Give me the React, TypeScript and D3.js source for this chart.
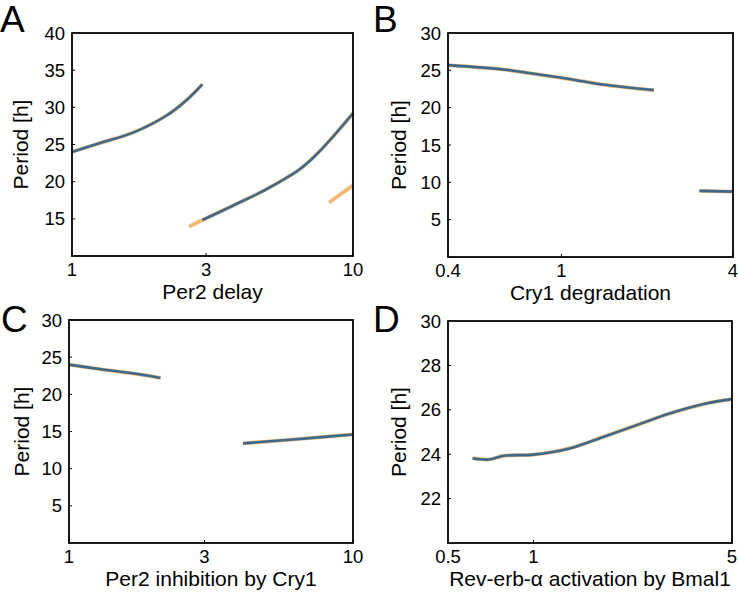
import React, { useEffect } from 'react'
import * as d3 from 'd3'

// values (x, period in h)
const perDelayBranch1 = [[1, 24.0], [1.26, 25.2], [1.65, 26.6], [2.17, 28.9], [2.56, 31.0], [2.91, 33.1]]
const perDelayBranch2 = [[2.91, 14.85], [3.75, 16.8], [4.93, 19.0], [6.48, 21.7], [7.43, 23.7], [8.51, 26.1], [10, 29.2]]
const perDelayUnstable1 = [[2.61, 13.95], [2.91, 14.85]]
const perDelayUnstable2 = [[8.22, 17.2], [10, 19.5]]

const cryDegBranch1 = [[0.4, 25.7], [0.63, 25.1], [0.78, 24.6], [1.0, 24.0], [1.4, 23.1], [2.11, 22.35]]
const cryDegBranch2 = [[3.05, 8.85], [4, 8.75]]

const perInhBranch1 = [[1, 24.0], [1.28, 23.4], [1.77, 22.7], [2.1, 22.2]]
const perInhBranch2 = [[4.1, 13.4], [6.49, 14.0], [10, 14.6]]

const revActBranch = [[0.61, 23.82], [0.695, 23.76], [0.785, 23.93], [1, 23.98], [1.35, 24.27], [1.77, 24.79], [2.31, 25.31], [3.03, 25.84], [3.97, 26.26], [5, 26.48]]

const ticksA = [1, 3, 10]
const ticksB = [0.4, 1, 4]
const ticksC = [1, 3, 10]
const ticksD = [0.5, 1, 5]
const yTicksA = [15, 20, 25, 30, 35, 40]
const yTicks30 = [5, 10, 15, 20, 25, 30]
const yTicksD = [22, 24, 26, 28, 30]

const BLUE = '#3b6a8d'
const ORANGE = '#f2b877'
const FONT = '"Liberation Sans", Arial, sans-serif'

type Pt = number[]

const panels = [
  { letter: 'A', lx: 0, ly: 32, box: [72, 33, 353, 256], xd: [1, 10], yd: [10, 40], xt: ticksA, yt: yTicksA, ylx: 21,
    label: 'Per2 delay', stable: [perDelayBranch1, perDelayBranch2], unstable: [perDelayUnstable1, perDelayUnstable2] },
  { letter: 'B', lx: 373, ly: 32, box: [448, 33, 733, 257], xd: [0.4, 4], yd: [0, 30], xt: ticksB, yt: yTicks30, ylx: 399,
    label: 'Cry1 degradation', stable: [cryDegBranch1, cryDegBranch2], unstable: [] },
  { letter: 'C', lx: 1, ly: 332, box: [69, 320, 353, 543], xd: [1, 10], yd: [0, 30], xt: ticksC, yt: yTicks30, ylx: 22,
    label: 'Per2 inhibition by Cry1', stable: [perInhBranch1, perInhBranch2], unstable: [] },
  { letter: 'D', lx: 373, ly: 332, box: [448, 321, 732, 543], xd: [0.5, 5], yd: [20, 30], xt: ticksD, yt: yTicksD, ylx: 399,
    label: 'Rev-erb-α activation by Bmal1', stable: [revActBranch], unstable: [] },
]

function Panel({ p }: { p: typeof panels[number] }) {
  const [l, t, r, b] = p.box
  const x = d3.scaleLog().domain(p.xd).range([l, r])
  const y = d3.scaleLinear().domain(p.yd).range([b, t])
  const line = d3.line<Pt>().x(d => x(d[0])).y(d => y(d[1])).curve(d3.curveCatmullRom.alpha(0.5))
  return (
    <g>
      <text x={p.lx} y={p.ly} fontSize={37} fontFamily={FONT}>{p.letter}</text>
      {[...p.stable, ...p.unstable].map((s, i) => (
        <path key={'o' + i} d={line(s as Pt[]) || ''} fill="none" stroke={ORANGE} strokeWidth={3.8} />
      ))}
      {p.stable.map((s, i) => (
        <path key={'b' + i} d={line(s as Pt[]) || ''} fill="none" stroke={BLUE} strokeWidth={2.6} />
      ))}
      <rect x={l} y={t} width={r - l} height={b - t} fill="none" stroke="#000" strokeWidth={1.8} />
      {p.xt.map(v => (
        <g key={'x' + v}>
          <line x1={x(v)} x2={x(v)} y1={b} y2={b - 3} stroke="#000" strokeWidth={1} />
          <text x={x(v)} y={b + 20} fontSize={18.5} fontFamily={FONT} textAnchor="middle">{v}</text>
        </g>
      ))}
      {p.yt.map(v => (
        <g key={'y' + v}>
          <line x1={l} x2={l + 3} y1={y(v)} y2={y(v)} stroke="#000" strokeWidth={1} />
          <text x={l - 7} y={y(v) + 6.5} fontSize={18.5} fontFamily={FONT} textAnchor="end">{v}</text>
        </g>
      ))}
      <text x={(l + r) / 2} y={b + 43} fontSize={21} fontFamily={FONT} textAnchor="middle">{p.label}</text>
      <text transform={`translate(${p.ylx + 7},${(t + b) / 2}) rotate(-90)`} fontSize={21} fontFamily={FONT} textAnchor="middle">Period [h]</text>
    </g>
  )
}

export default function App() {
  useEffect(() => { document.body.style.margin = '0' }, [])
  return (
    <svg width={739} height={596} style={{ display: 'block', background: '#fff' }}>
      {panels.map(p => <Panel key={p.letter} p={p} />)}
    </svg>
  )
}
